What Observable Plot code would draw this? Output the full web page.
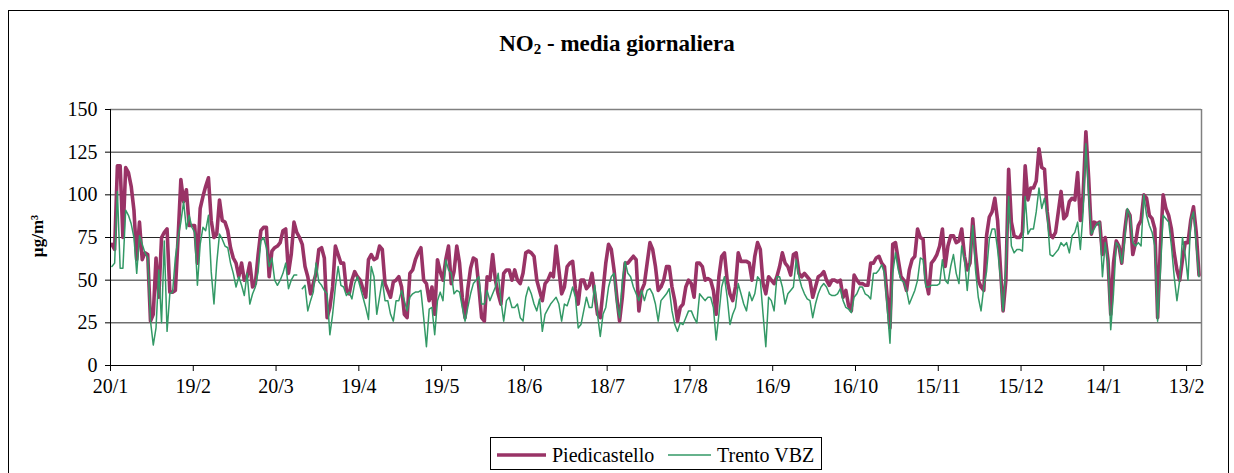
<!DOCTYPE html>
<html>
<head>
<meta charset="utf-8">
<script src="https://cdn.jsdelivr.net/npm/d3@7"></script>
<script src="https://cdn.jsdelivr.net/npm/@observablehq/plot@0.6"></script>
<style>
  html, body { margin: 0; padding: 0; background: #fff; }
  #wrap { position: relative; width: 1234px; height: 473px; overflow: hidden; font-family: "Liberation Serif", "Times New Roman", serif; }
  #chart { position: absolute; left: 0; top: 0; }
  #border { position: absolute; left: 8px; top: 10px; width: 1221px; height: 500px; border: 1px solid #000; box-sizing: border-box; }
  #title { position: absolute; left: 0; width: 1234px; top: 31px; text-align: center; font-weight: bold; font-size: 23px; line-height: 26px; color: #000; }
  #title sub { font-size: 15px; vertical-align: -3px; line-height: 0; }
  #ylabel { position: absolute; left: 38px; top: 236px; transform: translate(-50%, -50%) rotate(-90deg); font-weight: bold; font-size: 17px; white-space: nowrap; }
  #legend { position: absolute; left: 490px; top: 437px; width: 332px; height: 33px; border: 1px solid #000; box-sizing: border-box; }
  #legend svg { position: absolute; left: 0; top: 0; }
</style>
</head>
<body>
<div id="wrap">
  <div id="chart"></div>
  <div id="border"></div>
  <div id="title">NO<sub>2</sub> - media giornaliera</div>
  <div id="ylabel">µg/m³</div>
  <div id="legend"></div>
</div>
<script>
// ---- data (daily means, µg/m³), starting 20/1 ----
const seriesNames = ["Piedicastello", "Trento VBZ"];
const seriesColors = ["#993366", "#339966"];
const startDay = "2004-01-20";
const tickLabels = ["20/1","19/2","20/3","19/4","19/5","18/6","18/7","17/8","16/9","16/10","15/11","15/12","14/1","13/2"];
const yTicks = [0, 25, 50, 75, 100, 125, 150];

const piedicastello = [
  71,68,117,117,75,116,113,105,91,62,84,62,66,65,26,30,63,40,75,78,80,43,43,44,75,109,96,103,82,82,82,60,92,99,105,
  110,85,75,77,97,85,84,79,69,63,60,52,60,50,52,60,46,48,65,79,81,81,52,67,69,70,72,79,80,54,65,84,78,75,71,58,
  52,42,48,54,68,69,63,28,34,46,70,65,60,60,44,42,50,55,52,50,45,40,62,65,62,63,70,68,48,44,40,49,50,52,46,30,28,
  54,56,62,66,69,50,48,38,46,30,62,55,50,62,70,48,55,70,60,40,28,45,57,63,62,46,28,26,52,50,65,50,42,36,54,56,
  56,50,56,50,48,54,66,67,66,64,50,44,38,48,50,54,52,70,56,42,46,58,60,61,45,36,50,50,45,47,54,42,30,28,44,60,
  71,68,56,40,26,40,60,60,62,64,62,32,44,48,60,72,68,58,44,46,50,58,58,46,38,26,34,36,46,50,48,40,60,60,58,50,
  51,50,44,30,52,64,66,50,42,38,46,66,61,61,61,60,50,64,72,68,48,42,52,50,48,52,58,66,60,58,53,65,66,54,52,54,52,
  50,40,46,52,53,55,50,47,50,50,49,50,40,44,35,32,53,50,48,48,47,47,60,60,63,64,60,58,40,22,71,72,62,52,50,44,
  56,62,64,80,75,74,50,42,60,62,65,70,80,58,70,76,76,72,73,80,64,56,60,86,66,50,46,44,76,87,90,98,85,58,32,50,115,
  84,76,75,75,78,117,97,104,104,108,127,116,115,90,77,75,78,90,102,86,88,96,98,97,113,85,100,137,110,77,84,83,84,65,75,62,
  30,60,73,70,60,78,91,88,65,72,82,85,100,98,88,86,80,28,70,100,92,88,80,66,56,50,62,72,72,85,93,78,53
];

const trentoVBZ = [
  58,60,102,57,57,91,88,83,75,54,76,71,66,63,26,12,22,56,25,73,20,42,43,63,75,84,96,80,88,81,78,47,71,81,79,
  88,55,36,60,77,74,70,69,60,54,46,52,47,41,54,36,42,46,55,73,75,69,58,63,50,47,50,54,60,45,50,53,53,null,45,47,
  32,38,43,60,49,47,44,42,18,30,46,58,47,46,41,43,39,48,52,46,40,34,27,58,52,30,40,50,38,38,30,26,38,38,44,38,32,
  40,42,43,43,44,28,11,33,34,18,38,43,38,62,56,54,42,44,43,34,26,34,42,48,50,52,36,36,44,38,42,46,54,38,26,38,
  40,34,34,36,28,26,40,46,42,36,32,39,20,30,33,36,38,40,36,26,36,35,40,46,40,22,24,32,40,34,34,47,30,17,30,34,
  46,52,54,36,28,50,61,54,52,46,42,38,44,38,44,45,42,36,26,38,40,42,45,32,24,20,25,24,28,32,32,28,25,42,40,38,
  40,40,34,15,30,46,52,40,24,30,34,48,42,36,32,43,38,42,52,50,30,11,40,38,32,52,52,46,36,42,44,46,62,52,46,42,39,
  38,28,36,42,46,48,46,42,41,41,42,45,38,34,33,31,40,42,46,46,42,41,39,54,54,56,59,54,34,13,54,66,56,50,49,44,
  36,40,44,50,63,62,46,46,47,47,47,48,62,50,48,58,65,54,48,70,62,44,62,82,56,40,32,46,55,74,80,80,68,52,32,58,99,
  70,66,68,68,67,99,77,80,80,90,104,92,98,88,65,64,66,68,72,70,72,66,76,78,84,68,90,130,100,77,80,83,84,52,72,60,
  21,42,72,70,60,72,92,88,72,70,72,70,100,88,82,78,70,26,55,88,86,84,70,52,38,50,75,65,50,85,90,70,52
];

// ---- build table ----
const DAY = 864e5;
const t0 = Date.parse(startDay + "T00:00:00Z");
const rows = [];
piedicastello.forEach((v, i) => rows.push({series: seriesNames[0], date: new Date(t0 + (i + 0.5) * DAY), value: v}));
trentoVBZ.forEach((v, i) => rows.push({series: seriesNames[1], date: new Date(t0 + (i + 0.5) * DAY), value: v}));
const tickDates = tickLabels.map((l, i) => new Date(t0 + 30 * i * DAY));
const labelOf = new Map(tickDates.map((d, i) => [+d, tickLabels[i]]));
const xEnd = new Date(t0 + 395.4 * DAY);
const serif = "'Liberation Serif', 'Times New Roman', serif";

const chart = Plot.plot({
  width: 1234,
  height: 473,
  marginLeft: 110,
  marginRight: 33,
  marginTop: 109,
  marginBottom: 108,
  style: {fontFamily: serif, fontSize: "20px", color: "#000", background: "transparent"},
  x: {type: "utc", domain: [new Date(t0), xEnd], label: null},
  y: {domain: [0, 150], label: null},
  marks: [
    Plot.gridY(yTicks.filter(t => t > 0 && t < 150), {stroke: "#000", strokeOpacity: 0.85, strokeWidth: 1}),
    Plot.ruleY([150], {stroke: "#808080", strokeWidth: 1.5}),
    Plot.ruleX([xEnd], {stroke: "#808080", strokeWidth: 1.5}),
    Plot.line(rows.filter(d => d.series === seriesNames[0]), {x: "date", y: "value", stroke: seriesColors[0], strokeWidth: 3.6, strokeLinejoin: "round", strokeLinecap: "round"}),
    Plot.line(rows.filter(d => d.series === seriesNames[1]), {x: "date", y: "value", stroke: seriesColors[1], strokeWidth: 1.5, strokeLinejoin: "round"}),
    Plot.ruleY([0], {stroke: "#000", strokeWidth: 1}),
    Plot.ruleX([new Date(t0)], {stroke: "#000", strokeWidth: 1}),
    Plot.axisX({ticks: tickDates, tickFormat: d => labelOf.get(+d) ?? "", tickSize: 6, tickPadding: 7, anchor: "bottom", fontSize: 20, fontFamily: serif}),
    Plot.axisY({ticks: yTicks, tickSize: 5, tickPadding: 8, anchor: "left", fontSize: 20, fontFamily: serif})
  ]
});
document.getElementById("chart").appendChild(chart);

// ---- legend ----
const lg = d3.select("#legend").append("svg").attr("width", 332).attr("height", 33);
const items = [
  {x0: 6, x1: 55, tx: 61, w: 3.6},
  {x0: 177, x1: 220, tx: 226, w: 1.5}
];
items.forEach((it, i) => {
  lg.append("line").attr("x1", it.x0).attr("x2", it.x1).attr("y1", 17).attr("y2", 17)
    .attr("stroke", seriesColors[i]).attr("stroke-width", it.w);
  lg.append("text").attr("x", it.tx).attr("y", 17).attr("dy", "0.35em")
    .style("font-family", serif).style("font-size", "20px")
    .text(seriesNames[i]);
});
</script>
</body>
</html>
